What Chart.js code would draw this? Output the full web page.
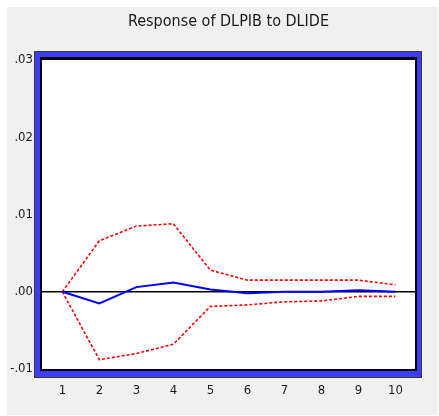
<!DOCTYPE html>
<html>
<head>
<meta charset="utf-8">
<script src="https://cdn.jsdelivr.net/npm/chart.js@4.4.1/dist/chart.umd.min.js"></script>
<style>
html,body{margin:0;padding:0;background:#ffffff;}
#wrap{position:absolute;left:0;top:0;width:439px;height:416px;}
</style>
</head>
<body>
<div id="wrap"><canvas id="c" width="439" height="416"></canvas></div>
<script>
const periods = [1, 2, 3, 4, 5, 6, 7, 8, 9, 10];
const response = [0.0000, -0.0015, 0.0006, 0.0012, 0.0003, -0.0002, 0.0000, 0.0000, 0.0002, 0.0000];
const upperBand = [0.0000, 0.0066, 0.0085, 0.0088, 0.0028, 0.0015, 0.0015, 0.0015, 0.0015, 0.0009];
const lowerBand = [0.0000, -0.0088, -0.0080, -0.0068, -0.0019, -0.0017, -0.0013, -0.0012, -0.0006, -0.0006];
const yTickValues = [-0.01, 0.00, 0.01, 0.02, 0.03];
const yTickLabels = ['-.01', '.00', '.01', '.02', '.03'];
const xTickValues = periods;
const titleText = 'Response of DLPIB to DLIDE';

const pts = arr => periods.map((p, i) => ({x: p, y: arr[i]}));
const FONT = "'Liberation Sans Narrow', 'DejaVu Sans Condensed', 'Liberation Sans', sans-serif";

const framePlugin = {
  id: 'frame',
  beforeDraw(chart) {
    const ctx = chart.ctx;
    const a = chart.chartArea;
    ctx.save();
    ctx.fillStyle = '#ffffff';
    ctx.fillRect(0, 0, chart.width, chart.height);
    ctx.fillStyle = '#f0f0f0';
    ctx.fillRect(7, 7, chart.width - 8, chart.height - 8);
    // outer dark edge
    ctx.fillStyle = '#3a3a3a';
    ctx.fillRect(a.left - 8, a.top - 9, (a.right + 7) - (a.left - 8), (a.bottom + 9) - (a.top - 9));
    // blue band
    ctx.fillStyle = '#3c3cf4';
    ctx.fillRect(a.left - 7, a.top - 8, (a.right + 6) - (a.left - 7), (a.bottom + 8) - (a.top - 8));
    // black inner line
    ctx.fillStyle = '#000000';
    ctx.fillRect(a.left - 2, a.top - 3, (a.right + 2) - (a.left - 2), (a.bottom + 2) - (a.top - 3));
    // white plot area
    ctx.fillStyle = '#ffffff';
    ctx.fillRect(a.left, a.top, a.right - a.left, a.bottom - a.top);
    ctx.restore();
  }
};

new Chart(document.getElementById('c'), {
  type: 'line',
  data: {
    datasets: [
      {
        data: pts(response),
        borderColor: '#0000ff',
        borderWidth: 2,
        pointRadius: 0,
        tension: 0,
        fill: false
      },
      {
        data: pts(upperBand),
        borderColor: '#ff0000',
        borderWidth: 1.6,
        borderDash: [3, 2],
        pointRadius: 0,
        tension: 0,
        fill: false
      },
      {
        data: pts(lowerBand),
        borderColor: '#ff0000',
        borderWidth: 1.6,
        borderDash: [3, 2],
        pointRadius: 0,
        tension: 0,
        fill: false
      }
    ]
  },
  options: {
    responsive: false,
    animation: false,
    devicePixelRatio: 1,
    layout: {padding: {left: 0, right: 24, top: 0, bottom: 0}},
    plugins: {
      legend: {display: false},
      tooltip: {enabled: false},
      title: {
        display: true,
        fullSize: false,
        text: titleText,
        color: '#1a1a1a',
        font: {family: FONT, size: 16, weight: 'normal'},
        padding: {top: 12.4, bottom: 28.4}
      }
    },
    scales: {
      x: {
        type: 'linear',
        min: 0.45,
        max: 10.53,
        afterBuildTicks(scale) { scale.ticks = xTickValues.map(v => ({value: v})); },
        afterFit(scale) { scale.height = 47; },
        grid: {display: false, drawTicks: false},
        border: {display: false},
        ticks: {
          color: '#1a1a1a',
          padding: 14,
          font: {family: FONT, size: 13},
          maxRotation: 0,
          autoSkip: false,
          callback: v => String(v)
        }
      },
      y: {
        type: 'linear',
        min: -0.01,
        max: 0.03,
        afterBuildTicks(scale) { scale.ticks = yTickValues.map(v => ({value: v})); },
        afterFit(scale) { scale.width = 42; },
        grid: {
          drawTicks: false,
          color: c => (Math.abs(c.tick.value) < 1e-9 ? '#000000' : 'rgba(0,0,0,0)'),
          lineWidth: 1.5
        },
        border: {display: false},
        ticks: {
          color: '#1a1a1a',
          padding: 9,
          font: {family: FONT, size: 13},
          autoSkip: false,
          callback: function(v) {
            const i = yTickValues.findIndex(t => Math.abs(t - v) < 1e-9);
            return i >= 0 ? yTickLabels[i] : '';
          }
        }
      }
    }
  },
  plugins: [framePlugin]
});
</script>
</body>
</html>
